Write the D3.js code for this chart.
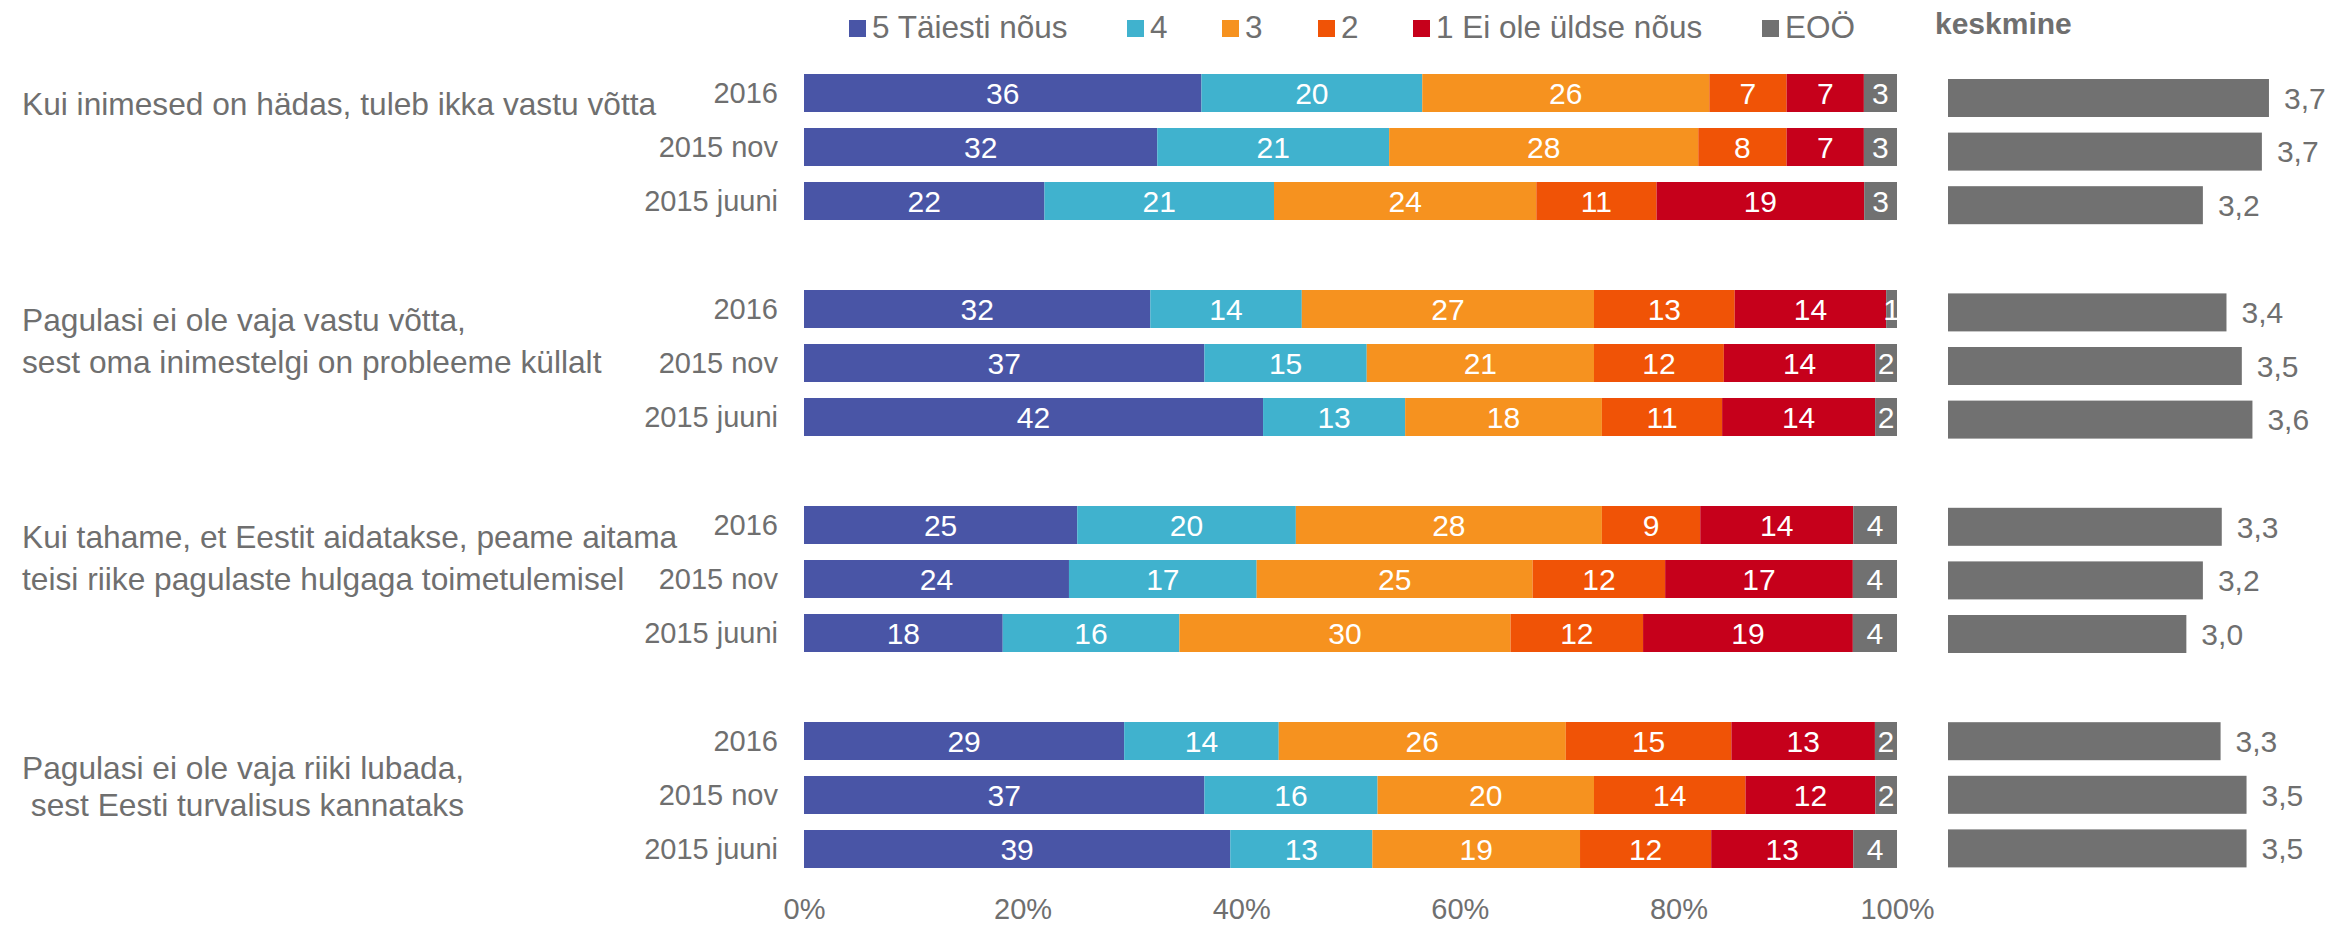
<!DOCTYPE html>
<html>
<head>
<meta charset="utf-8">
<script src="https://cdn.jsdelivr.net/npm/d3@7/dist/d3.min.js"></script>
<style>
  body { margin: 0; background: #fff; }
  text { font-family: "Liberation Sans", Arial, sans-serif; }
</style>
</head>
<body>
<script>
var questions = [
  ['Kui inimesed on hädas, tuleb ikka vastu võtta'],
  ['Pagulasi ei ole vaja vastu võtta,', 'sest oma inimestelgi on probleeme küllalt'],
  ['Kui tahame, et Eestit aidatakse, peame aitama', 'teisi riike pagulaste hulgaga toimetulemisel'],
  ['Pagulasi ei ole vaja riiki lubada,', ' sest Eesti turvalisus kannataks']
];
var waves = ['2016', '2015 nov', '2015 juuni'];
var seriesNames = ['5 Täiesti nõus', '4', '3', '2', '1 Ei ole üldse nõus', 'EOÖ'];
var seriesColors = ['#4955a6', '#40b2ce', '#f6921f', '#f05306', '#c6001b', '#717171'];

// shares per wave (2016, 2015 nov, 2015 juuni), in series order
var q1Values = [[36, 20, 26, 7, 7, 3], [32, 21, 28, 8, 7, 3], [22, 21, 24, 11, 19, 3]];
var q2Values = [[32, 14, 27, 13, 14, 1], [37, 15, 21, 12, 14, 2], [42, 13, 18, 11, 14, 2]];
var q3Values = [[25, 20, 28, 9, 14, 4], [24, 17, 25, 12, 17, 4], [18, 16, 30, 12, 19, 4]];
var q4Values = [[29, 14, 26, 15, 13, 2], [37, 16, 20, 14, 12, 2], [39, 13, 19, 12, 13, 4]];
var allValues = [q1Values, q2Values, q3Values, q4Values];

// keskmine (mean) per wave
var meanValues = [[3.72, 3.66, 3.16], [3.36, 3.49, 3.58], [3.32, 3.16, 3.02], [3.31, 3.53, 3.53]];

var xTicks = [0, 0.2, 0.4, 0.6, 0.8, 1];

var W = 2332, H = 928;
var grey = '#6f6f6f';

var svg = d3.select('body').append('svg')
  .attr('width', W).attr('height', H);

// rows + spacer slots between the groups
var rows = [];
var slots = [];
questions.forEach((q, qi) => {
  waves.forEach((w, wi) => {
    var row = { key: qi + '|' + w, q: qi, wave: w, mean: meanValues[qi][wi] };
    seriesNames.forEach((s, si) => { row[s] = allValues[qi][wi][si]; });
    rows.push(row);
    slots.push(row.key);
  });
  if (qi < questions.length - 1) slots.push('gap' + qi);
});

var barH = 38, step = 54;
var y = d3.scaleBand().domain(slots)
  .range([74, 74 + (slots.length - 1) * step + barH])
  .paddingInner((step - barH) / step).paddingOuter(0);
var yMean = d3.scaleBand().domain(slots)
  .range([79, 79 + (slots.length - 1) * 53.6 + barH])
  .paddingInner((53.6 - barH) / 53.6).paddingOuter(0);

var x = d3.scaleLinear().domain([0, 1]).range([804, 1897]);
var mx = d3.scaleLinear().domain([1, 4]).range([1948, 2302]);

var stack = d3.stack().keys(seriesNames).offset(d3.stackOffsetExpand);
var series = stack(rows);

var color = d3.scaleOrdinal().domain(seriesNames).range(seriesColors);

var layers = svg.append('g').selectAll('g')
  .data(series).enter().append('g')
  .attr('fill', d => color(d.key));

layers.selectAll('rect')
  .data(d => d).enter().append('rect')
  .attr('x', d => x(d[0]))
  .attr('y', d => y(d.data.key))
  .attr('width', d => x(d[1]) - x(d[0]))
  .attr('height', y.bandwidth());

var segLabels = svg.append('g').selectAll('g')
  .data(series).enter().append('g');

segLabels.selectAll('text')
  .data(d => d.map(p => ({ p: p, key: d.key })))
  .enter().append('text')
  .attr('x', d => (x(d.p[0]) + x(d.p[1])) / 2)
  .attr('y', d => y(d.p.data.key) + y.bandwidth() / 2)
  .attr('dy', '0.36em')
  .attr('text-anchor', 'middle')
  .attr('fill', '#fff')
  .style('font-size', '30px')
  .text(d => d.p.data[d.key]);

// wave labels
svg.append('g').selectAll('text')
  .data(rows).enter().append('text')
  .attr('x', 778)
  .attr('y', d => y(d.key) + y.bandwidth() / 2)
  .attr('dy', '0.36em')
  .attr('text-anchor', 'end')
  .attr('fill', grey)
  .style('font-size', '29px')
  .text(d => d.wave);

// question labels
var qLineY = [[104], [320, 362], [537, 579], [768, 805]];
var qText = svg.append('g').selectAll('text')
  .data(questions).enter().append('text')
  .attr('fill', grey)
  .attr('xml:space', 'preserve')
  .style('font-size', '31.7px')
  .style('white-space', 'pre');
qText.selectAll('tspan')
  .data((d, i) => d.map((line, li) => ({ line: line, yy: qLineY[i][li] })))
  .enter().append('tspan')
  .attr('x', 22)
  .attr('y', d => d.yy)
  .attr('dy', '0.36em')
  .text(d => d.line);

// x axis
var axis = svg.append('g')
  .attr('transform', 'translate(0,895)')
  .call(d3.axisBottom(x).tickValues(xTicks).tickFormat(d3.format('.0%')).tickSize(0));
axis.select('.domain').remove();
axis.selectAll('text')
  .attr('fill', grey)
  .style('font-size', '29px')
  .style('font-family', '"Liberation Sans", Arial, sans-serif');

// keskmine panel
var fmt = d3.formatLocale({ decimal: ',', thousands: ' ', grouping: [3], currency: ['', ''] }).format('.1f');

svg.append('g').selectAll('rect')
  .data(rows).enter().append('rect')
  .attr('x', mx(1))
  .attr('y', d => yMean(d.key))
  .attr('width', d => mx(d.mean) - mx(1))
  .attr('height', yMean.bandwidth())
  .attr('fill', '#717171');

svg.append('g').selectAll('text')
  .data(rows).enter().append('text')
  .attr('x', d => mx(d.mean) + 15)
  .attr('y', d => yMean(d.key) + yMean.bandwidth() / 2)
  .attr('dy', '0.36em')
  .attr('fill', grey)
  .style('font-size', '30px')
  .text(d => fmt(d.mean));

svg.append('text')
  .attr('x', 1935).attr('y', 34)
  .attr('fill', grey)
  .style('font-size', '30px')
  .style('font-weight', 'bold')
  .text('keskmine');

// legend
var legendX = [849, 1127, 1222, 1318, 1413, 1762];
var legend = svg.append('g').selectAll('g')
  .data(seriesNames).enter().append('g')
  .attr('transform', (d, i) => 'translate(' + legendX[i] + ',0)');
legend.append('rect')
  .attr('y', 20).attr('width', 17).attr('height', 17)
  .attr('fill', d => color(d));
legend.append('text')
  .attr('x', 23).attr('y', 38)
  .attr('fill', grey)
  .style('font-size', '31.5px')
  .text(d => d);
</script>
</body>
</html>
